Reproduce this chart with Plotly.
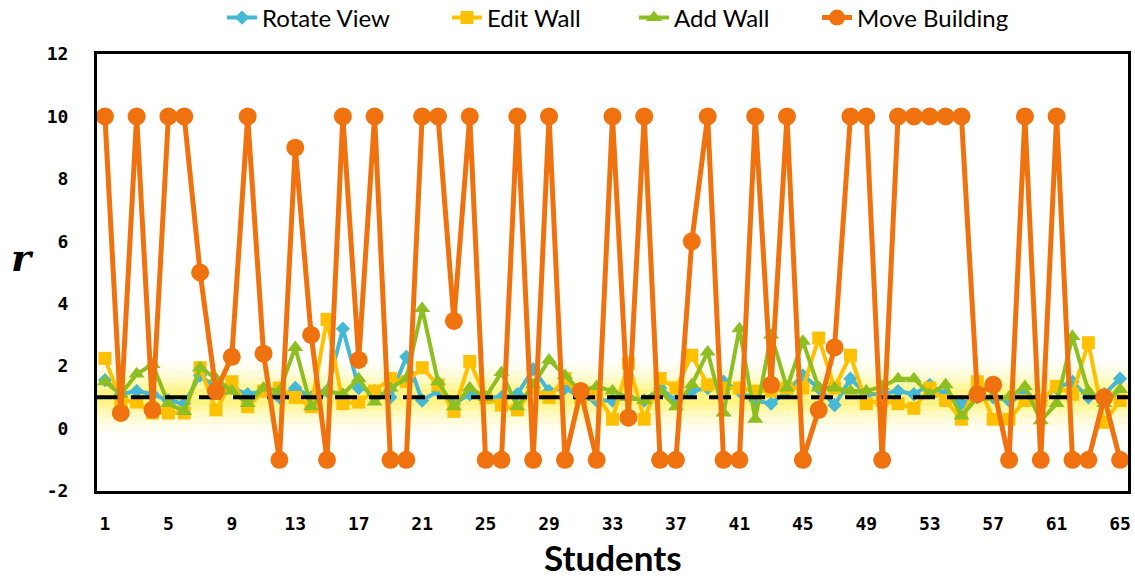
import plotly.graph_objects as go

students = list(range(1, 66))

rotate_view = [1.55, 1.1, 1.2, 1.1, 0.9, 0.8, 1.7, 1.3, 1.3, 1.1, 1.2, 1.0, 1.3, 1.0, 1.2, 3.2,
               1.3, 1.2, 1.0, 2.3, 0.9, 1.2, 0.8, 1.1, 1.0, 1.0, 1.1, 1.9, 1.2, 1.3, 1.0, 0.9,
               0.9, 1.0, 0.9, 1.3, 0.9, 1.2, 1.3, 1.5, 1.2, 0.9, 0.8, 1.2, 1.7, 1.3, 0.75, 1.6,
               1.1, 1.1, 1.2, 1.1, 1.4, 1.1, 0.8, 1.0, 1.0, 0.9, 1.1, 0.9, 1.3, 1.5, 1.0, 1.1, 1.6]

edit_wall = [2.25, 0.9, 0.85, 0.5, 0.5, 0.5, 1.95, 0.6, 1.5, 0.7, 1.2, 1.3, 1.0, 0.7, 3.5, 0.8,
             0.85, 1.2, 1.6, 1.5, 1.95, 1.4, 0.55, 2.15, 1.0, 0.75, 0.6, 1.3, 1.0, 1.6, 1.0, 1.1,
             0.3, 2.1, 0.3, 1.6, 1.3, 2.35, 1.4, 1.3, 1.3, 1.2, 1.2, 1.3, 1.3, 2.9, 1.3, 2.35,
             0.8, 0.9, 0.8, 0.65, 1.3, 0.9, 0.3, 1.5, 0.3, 0.3, 0.9, 0.9, 1.35, 1.1, 2.75, 0.2, 0.9]

add_wall = [1.5, 1.1, 1.75, 2.05, 0.8, 0.55, 1.95, 1.6, 1.2, 0.8, 1.3, 1.2, 2.6, 0.7, 1.2, 1.1,
            1.6, 0.85, 1.3, 1.6, 3.85, 1.5, 0.7, 1.3, 1.0, 1.8, 0.7, 1.4, 2.2, 1.7, 1.2, 1.35,
            1.2, 1.0, 0.9, 1.2, 0.7, 1.4, 2.45, 0.5, 3.2, 0.3, 3.0, 1.3, 2.8, 1.3, 1.3, 1.2,
            1.2, 1.35, 1.6, 1.6, 1.1, 1.4, 0.4, 1.0, 1.0, 1.0, 1.35, 0.25, 0.8, 2.95, 1.2, 0.8, 1.25]

move_building = [10, 0.5, 10, 0.6, 10, 10, 5.0, 1.2, 2.3, 10, 2.4, -1, 9.0, 3.0, -1, 10,
                 2.2, 10, -1, -1, 10, 10, 3.45, 10, -1, -1, 10, -1, 10, -1, 1.2, -1,
                 10, 0.35, 10, -1, -1, 6.0, 10, -1, -1, 10, 1.4, 10, -1, 0.6, 2.6, 10,
                 10, -1, 10, 10, 10, 10, 10, 1.1, 1.4, -1, 10, -1, 10, -1, -1, 1.0, -1]

threshold = 1.0

x_tick_vals = list(range(1, 66, 4))
y_tick_vals = list(range(-2, 13, 2))

FONT = "Lato"
TICKFONT = "DejaVu Sans Mono"

fig = go.Figure()

# glowing yellow band around the threshold
for w, a in [(70, 0.06), (55, 0.08), (40, 0.12), (28, 0.16), (16, 0.2)]:
    fig.add_trace(go.Scatter(x=[0.5, 65.5], y=[threshold, threshold], mode="lines",
                             line=dict(color=f"rgba(255,235,0,{a})", width=w),
                             showlegend=False, hoverinfo="skip", cliponaxis=False))

fig.add_trace(go.Scatter(x=students, y=rotate_view, mode="lines+markers", name="Rotate View",
                         line=dict(color="#45B8D6", width=4), legend="legend",
                         marker=dict(symbol="diamond", size=11, color="#45B8D6")))
fig.add_trace(go.Scatter(x=students, y=edit_wall, mode="lines+markers", name="Edit Wall",
                         line=dict(color="#FFC000", width=4), legend="legend2",
                         marker=dict(symbol="square", size=13, color="#FFC000")))
fig.add_trace(go.Scatter(x=students, y=add_wall, mode="lines+markers", name="Add Wall",
                         line=dict(color="#8DBE22", width=4), legend="legend3",
                         marker=dict(symbol="triangle-up", size=14, color="#8DBE22")))
fig.add_trace(go.Scatter(x=[0.5, 65.5], y=[threshold, threshold], mode="lines",
                         line=dict(color="black", width=4, dash="22px,12px"),
                         showlegend=False, hoverinfo="skip"))
fig.add_trace(go.Scatter(x=students, y=move_building, mode="lines+markers", name="Move Building",
                         line=dict(color="#EF720E", width=5), legend="legend4",
                         marker=dict(symbol="circle", size=18, color="#EF720E")))


def leg(x_px):
    return dict(orientation="h", x=x_px / 1135, xanchor="left", xref="container",
                y=1 - 18 / 581, yanchor="middle", yref="container",
                font=dict(size=24, family=FONT), itemwidth=30,
                bgcolor="rgba(0,0,0,0)", borderwidth=0)


fig.update_layout(
    width=1135, height=581,
    margin=dict(l=97, r=7, t=54, b=90, autoexpand=False),
    paper_bgcolor="white", plot_bgcolor="white",
    font=dict(family=FONT, color="black"),
    legend=leg(222), legend2=leg(447), legend3=leg(634), legend4=leg(817),
    showlegend=True,
    annotations=[
        dict(text="<b>Students</b>", x=0.5, xref="paper", y=(491 - 557) / 437, yref="paper",
             xanchor="center", yanchor="middle", showarrow=False, font=dict(size=35, family=FONT)),
        dict(text="<b><i>r</i></b>", x=(22 - 97) / 1031, xref="paper", y=(491 - 257) / 437,
             yref="paper", xanchor="center", yanchor="middle", showarrow=False,
             font=dict(size=38, family="DejaVu Serif")),
    ],
)

fig.update_xaxes(range=[0.5, 65.5], tickvals=x_tick_vals, ticktext=[str(v) for v in x_tick_vals],
                 showgrid=False, zeroline=False, showline=True, linecolor="black", linewidth=3,
                 mirror=True, ticks="", ticklabelstandoff=14, automargin=False,
                 tickfont=dict(size=18, family=TICKFONT, weight="bold"))
fig.update_yaxes(range=[-2, 12], tickvals=y_tick_vals, ticktext=[str(v) for v in y_tick_vals],
                 showgrid=False, zeroline=False, showline=True, linecolor="black", linewidth=3,
                 mirror=True, ticks="", ticklabelstandoff=22, automargin=False,
                 tickfont=dict(size=18, family=TICKFONT, weight="bold"))

fig.write_html("out.html", config={"displayModeBar": False},
               post_script="document.body.style.margin='0';")
